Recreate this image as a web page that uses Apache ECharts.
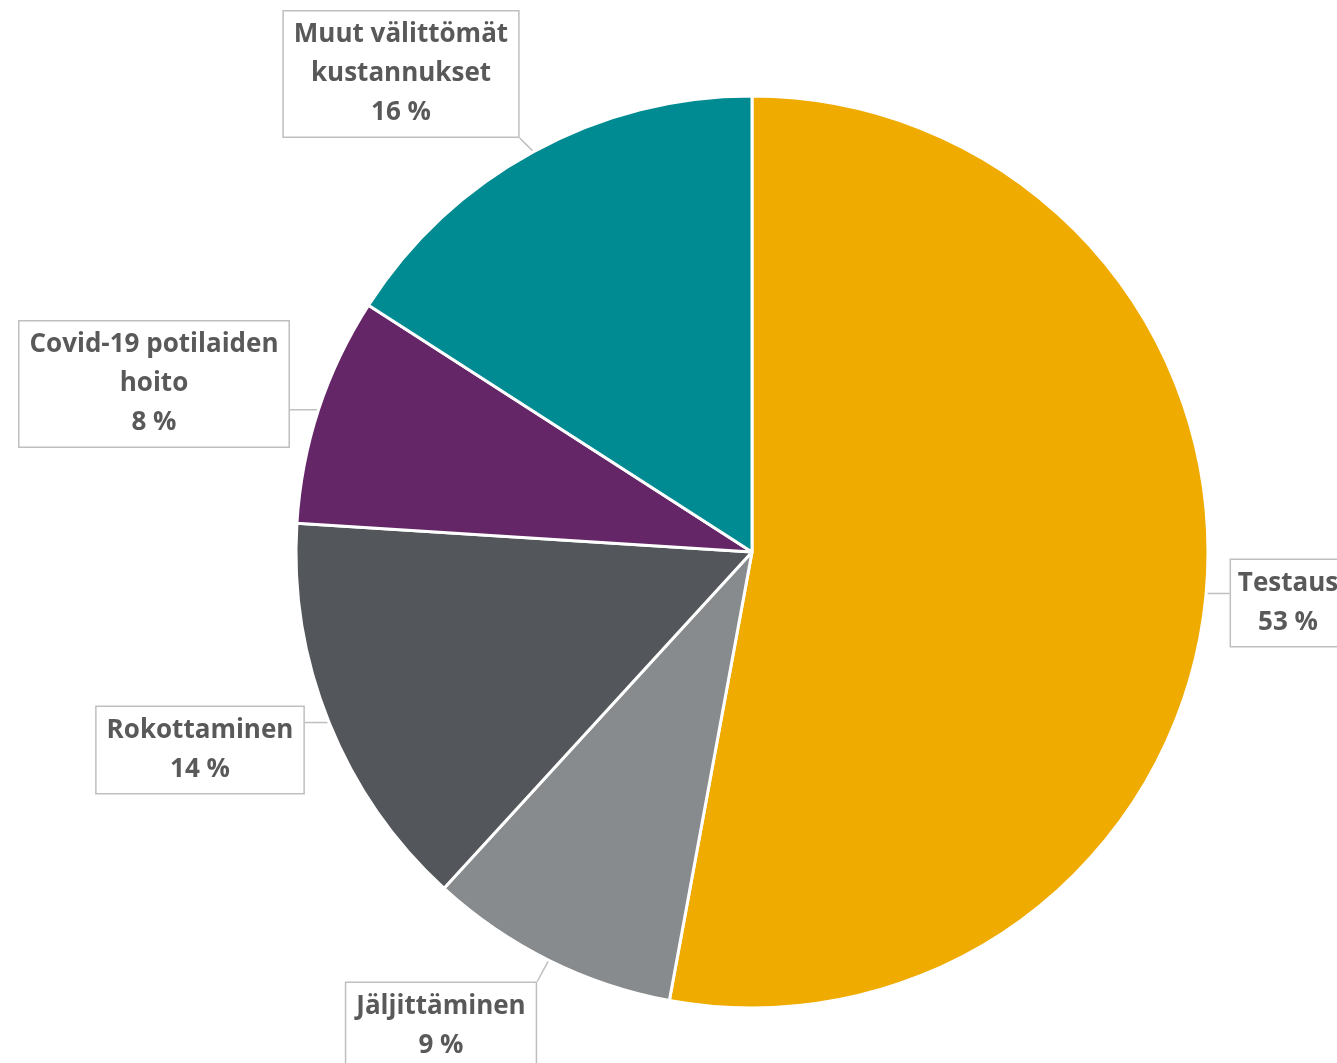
<!DOCTYPE html>
<html>
<head>
<meta charset="utf-8">
<script src="https://cdn.jsdelivr.net/npm/echarts@6/dist/echarts.min.js"></script>
<style>
html,body{margin:0;padding:0;background:#fff;}
#chart{width:1337px;height:1063px;}
</style>
</head>
<body>
<div id="chart"></div>
<script>
const categories = ["Testaus", "Jäljittäminen", "Rokottaminen", "Covid-19 potilaiden\nhoito", "Muut välittömät\nkustannukset"];
const values = [52.9, 8.9, 14.2, 8.1, 15.9];
const colors = ["#F0AB00", "#888B8D", "#53565A", "#642667", "#008B92"];
// label box centres (layout only)
const labelPos = [[1288, 603], [441, 1026], [200, 750], [154, 384], [401, 74]];

const chart = echarts.init(document.getElementById('chart'));
const total = values.reduce((a, b) => a + b, 0);
chart.setOption({
  animation: false,
  series: [{
    type: 'pie',
    center: [752, 552],
    radius: [0, 456],
    startAngle: 90,
    clockwise: true,
    data: categories.map((c, i) => ({ name: c, value: values[i], itemStyle: { color: colors[i] } })),
    itemStyle: { borderColor: '#fff', borderWidth: 3 },
    label: {
      show: true,
      formatter: p => p.name + '\n' + Math.round(p.value / total * 100) + ' %',
      fontFamily: 'Open Sans',
      fontWeight: 'bold',
      fontSize: 26,
      lineHeight: 39,
      color: '#595959',
      align: 'center',
      overflow: 'none',
      backgroundColor: '#fff',
      borderColor: '#BFBFBF',
      borderWidth: 1.5,
      padding: [2, 10, 6, 10]
    },
    labelLine: { show: true, length: 2, length2: 0, lineStyle: { color: '#BFBFBF', width: 1.5 } },
    labelLayout: params => {
      const c = labelPos[params.dataIndex];
      const w = params.labelRect.width, h = params.labelRect.height;
      const out = { x: c[0], y: c[1], align: 'center', verticalAlign: 'middle' };
      const pts = params.labelLinePoints;
      if (pts && pts.length) {
        const a = pts[0];
        const x0 = c[0] - w / 2, x1 = c[0] + w / 2, y0 = c[1] - h / 2, y1 = c[1] + h / 2;
        const ex = Math.min(Math.max(a[0], x0), x1);
        const ey = Math.min(Math.max(a[1], y0), y1);
        out.labelLinePoints = [[a[0], a[1]], [(a[0] + ex) / 2, (a[1] + ey) / 2], [ex, ey]];
      }
      return out;
    }
  }]
});
</script>
</body>
</html>
